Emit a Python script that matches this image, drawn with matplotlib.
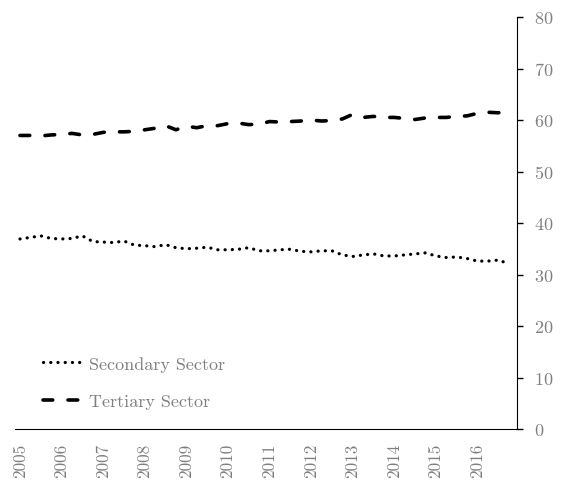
import matplotlib
matplotlib.use("Agg")
import matplotlib.pyplot as plt
import numpy as np

plt.rcParams['font.family'] = 'cmr10'
plt.rcParams['mathtext.fontset'] = 'cm'
plt.rcParams['axes.unicode_minus'] = False
plt.rcParams['axes.formatter.use_mathtext'] = True
plt.rcParams['lines.scale_dashes'] = False

font_size = 13
grey = "#7f7f7f"

years = ["2005", "2006", "2007", "2008", "2009", "2010",
         "2011", "2012", "2013", "2014", "2015", "2016"]

# quarterly shares, 2005Q1 .. 2016Q4
secondary = [36.9, 37.2, 37.5, 37.0, 36.9, 37.0, 37.5, 36.4,
             36.3, 36.2, 36.5, 35.7, 35.6, 35.4, 35.8, 35.2,
             35.0, 35.1, 35.3, 34.8, 34.8, 34.9, 35.2, 34.6,
             34.6, 34.8, 34.9, 34.5, 34.4, 34.6, 34.6, 33.8,
             33.5, 33.8, 34.0, 33.6, 33.6, 33.8, 34.0, 34.2,
             33.6, 33.3, 33.4, 33.1, 32.6, 32.6, 32.8, 32.1]
tertiary = [57.0, 57.0, 56.9, 57.1, 57.2, 57.4, 57.1, 57.2,
            57.6, 57.7, 57.7, 57.8, 58.1, 58.4, 58.9, 58.1,
            58.8, 58.5, 58.9, 58.9, 59.3, 59.4, 59.1, 59.2,
            59.7, 59.6, 59.7, 59.8, 60.0, 59.8, 59.9, 60.2,
            61.1, 60.5, 60.7, 60.5, 60.5, 60.3, 60.1, 60.4,
            60.5, 60.5, 60.7, 60.8, 61.3, 61.5, 61.4, 61.8]

x = np.arange(len(secondary))

fig = plt.figure(figsize=(5.62, 4.81), dpi=100)
ax = fig.add_axes([15 / 562, 51 / 481, 502 / 562, 412 / 481])

ax.plot(x, secondary, color="black", lw=2.3, dashes=(0.1, 5.1),
        dash_capstyle="round", label="Secondary Sector")
ax.plot(x, tertiary, color="black", lw=2.6, dashes=(7, 11),
        dash_capstyle="round", label="Tertiary Sector")

ax.set_xlim(-0.48, 47.8)
ax.set_ylim(0, 80)

ax.spines['top'].set_visible(False)
ax.spines['left'].set_visible(False)
ax.yaxis.tick_right()
ax.set_yticks(np.arange(0, 81, 10))
ax.tick_params(axis='y', direction='out', length=4, width=1, colors="black",
               labelcolor=grey, labelsize=font_size, pad=8)

ax.set_xticks(x[::4])
ax.set_xticklabels(years, rotation=90, color=grey, fontsize=12.3)
ax.tick_params(axis='x', length=0, pad=10)

ax.legend(loc="lower left", bbox_to_anchor=(0.038, 0.027), frameon=False,
          fontsize=font_size, labelcolor=grey, handlelength=2.1,
          handletextpad=0.45, labelspacing=1.2, borderpad=0)

fig.savefig("out.png", dpi=100)
